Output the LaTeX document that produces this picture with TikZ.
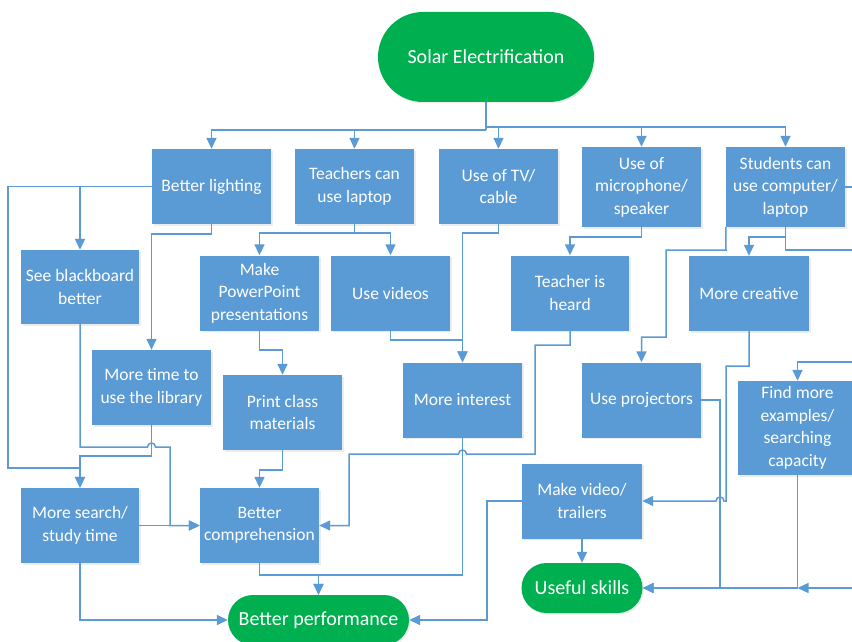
\documentclass[tikz,border=0pt]{standalone}
\usepackage{fontspec}
\setmainfont{Carlito}
\usetikzlibrary{arrows.meta,shadows}
\definecolor{boxblue}{HTML}{5B9BD5}
\definecolor{termgreen}{HTML}{00B050}
\begin{document}
\begin{tikzpicture}[x=1pt,y=-1pt,
  box/.style={rectangle,fill=boxblue,text=white,minimum width=119pt,minimum height=75pt,inner sep=0pt,align=center,
    font=\fontsize{17.5}{22.5}\selectfont,drop shadow={opacity=0.15,shadow xshift=1.5pt,shadow yshift=-1.5pt}},
  term/.style={rectangle,rounded corners=25pt,fill=termgreen,text=white,minimum height=50pt,inner sep=0pt,align=center,
    font=\fontsize{20}{24}\selectfont,drop shadow={opacity=0.15,shadow xshift=1.5pt,shadow yshift=-1.5pt}},
  conn/.style={draw=boxblue,line width=1.5pt},
  arr/.style={conn,-{Triangle[length=11pt,width=10pt]}}]
\useasboundingbox (0,0) rectangle (852,642);
\clip (0,0) rectangle (852,642);
\fill[white] (0,0) rectangle (852,642);

% terminals
\node[term,minimum width=216pt,minimum height=90pt,rounded corners=45pt] (solar) at (486,57) {Solar Electrification};
\node[term,minimum width=181pt] (perf) at (318.5,620) {Better performance};
\node[term,minimum width=121pt] (us) at (582,588) {Useful skills};

% top row
\node[box] (bl) at (211.5,186.5) {Better lighting};
\node[box] (tl) at (354.5,186.5) {Teachers can\\use laptop};
\node[box] (tv) at (498.5,186.5) {Use of TV/\\cable};
\node[box,minimum height=80pt] (mic) at (641.5,187) {Use of\\microphone/\\speaker};
\node[box,minimum height=80pt] (st) at (785.5,187) {Students can\\use computer/\\laptop};

% second row
\node[box,minimum width=118pt,minimum height=74pt] (sb) at (80,287) {See blackboard\\better};
\node[box] (pp) at (259.5,293) {Make\\PowerPoint\\presentations};
\node[box] (uv) at (390.5,293) {Use videos};
\node[box,minimum width=118pt] (th) at (570,293) {Teacher is\\heard};
\node[box,minimum width=120pt] (mc) at (749,293.5) {More creative};

% third row
\node[box] (lib) at (151.5,387.5) {More time to\\use the library};
\node[box] (pc) at (282.5,412.5) {Print class\\materials};
\node[box] (mi) at (462.5,400) {More interest};
\node[box] (proj) at (641.5,400) {Use projectors};
\node[box,minimum height=94pt] (fm) at (797.5,428) {Find more\\examples/\\searching\\capacity};

% fourth row
\node[box,minimum width=118pt] (ms) at (80,525.5) {More search/\\study time};
\node[box] (bc) at (259.5,525.5) {Better\\comprehension};
\node[box,minimum width=120pt] (mv) at (582,501) {Make video/\\trailers};

% bus from Solar Electrification
\coordinate (busL) at (486,130);
\coordinate (busR) at (486,127);
\draw[conn] (solar.south) -- (busL);
\draw[arr] (busL) -| (bl.north);
\draw[arr] (busL) -| (tl.north);
\draw[arr] (busR) -| (tv.north);
\draw[arr] (busR) -| (mic.north);
\draw[arr] (busR) -| (st.north);

% Better lighting
\draw[arr] (bl.west) -| (sb.north);
\draw[arr] (bl.west) -- (8,186.5) -- (8,468) -| (ms.north);
\draw[arr] (bl.south) -- (211.5,234) -| (lib.north);
\draw[arr] (lib.south) -- (151.5,456) -| (ms.north);
\draw[arr] (sb.south) -- (80,447) -- (147.5,447) arc[start angle=180,end angle=0,radius=4pt] -- (170,447) -- (170,525.5) -- (bc.west);
\draw[arr] (ms.east) -- (bc.west);
\draw[arr] (ms.south) |- (perf.west);

% Teachers can use laptop
\draw[arr] (tl.south) -- (354.5,233) -| (pp.north);
\draw[arr] (tl.south) -- (354.5,233) -| (uv.north);
\draw[arr] (pp.south) -- (259.5,350) -| (pc.north);
\draw[arr] (pc.south) -- (282.5,470) -| (bc.north);
\draw[arr] (uv.south) -- (390.5,340) -| (mi.north);
\draw[arr] (tv.south) -- (498.5,233) -| (mi.north);

% microphone
\draw[arr] (mic.south) -- (641.5,237) -| (th.north);
\draw[arr] (th.south) -- (570,345) -- (535,345) -- (535,454) -- (466.5,454) arc[start angle=0,end angle=180,radius=4pt] -- (349,454) |- (bc.east);

% to Better performance
\draw[arr] (mi.south) -- (462.5,575) -| (perf.north);
\draw[arr] (bc.south) -- (259.5,575) -| (perf.north);
\draw[arr] (mv.south) -- (us.north);
\draw[arr] (mv.west) -- (487,501) |- (perf.east);

% Students can use computer/laptop
\coordinate (offA) at (870,250);
\coordinate (offB) at (870,187);
\coordinate (offC) at (870,362);
\coordinate (offD) at (870,588);
\draw[arr] (st.south west) -- (726,250) -- (666,250) -- (666,337) -| (proj.north);
\draw[arr] (st.south) -- (785.5,237) -| (mc.north);
\draw[conn] (st.south) -- (785.5,250) -- (offA);
\draw[conn] (st.east) -- (offB);
\draw[arr] (offC) -| (fm.north);
\draw[arr] (mc.south) -- (749,366) -- (726,366) -- (726,501) -- (724,501) arc[start angle=0,end angle=180,radius=4pt] -- (mv.east);
\draw[arr] (proj.east) -- (720,400) -- (720,588) -- (us.east);
\draw[arr] (fm.south) -- (797.5,588) -- (us.east);
\draw[arr] (offD) -- (797.5,588);
\end{tikzpicture}
\end{document}
